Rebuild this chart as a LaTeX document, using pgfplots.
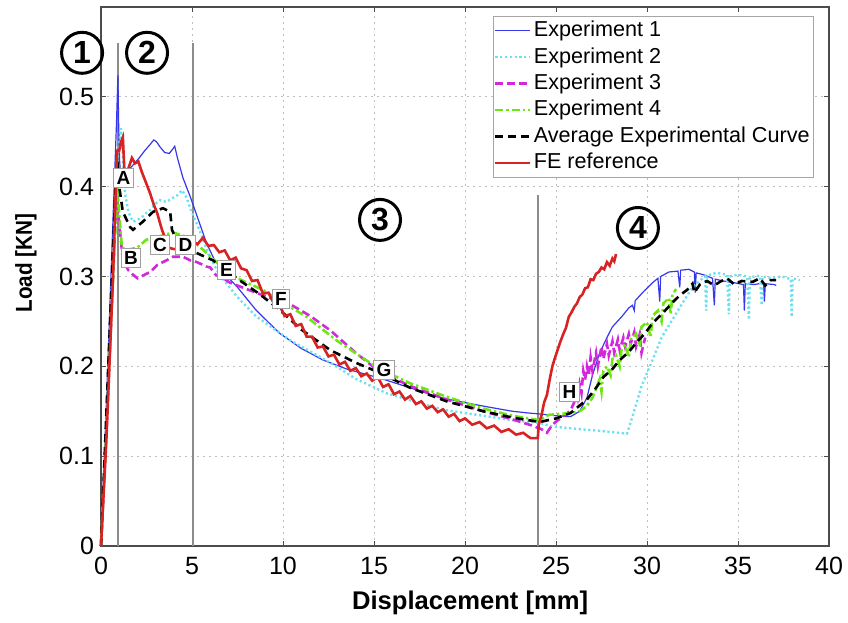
\documentclass[border=0pt]{standalone}
\usepackage{pgfplots}
\pgfplotsset{compat=1.18}
\usepackage{fontspec}
\setmainfont{Liberation Sans}
\newfontfamily\condbold[FakeStretch=0.9]{Liberation Sans}

\definecolor{expA}{RGB}{55,55,235}
\definecolor{expB}{RGB}{110,225,240}
\definecolor{expC}{RGB}{210,40,220}
\definecolor{expD}{RGB}{110,230,20}
\definecolor{feRed}{RGB}{215,35,35}
\definecolor{zoneLine}{RGB}{140,140,140}

\tikzset{
  stage/.style={circle, draw=black, line width=1.5pt, minimum size=20.5pt, inner sep=0pt,
                font=\bfseries\fontsize{16}{16}\selectfont},
  point/.style={draw=gray!75, fill=white, line width=0.5pt, inner sep=1.5pt,
                text height=6.6pt, text depth=0pt, font=\bfseries\fontsize{9.5}{10}\selectfont}
}

\begin{document}
\begin{tikzpicture}
\begin{axis}[
  scale only axis, width=364pt, height=269.5pt,
  xmin=0, xmax=40, ymin=0, ymax=0.6,
  xtick={0,5,10,15,20,25,30,35,40},
  ytick={0,0.1,0.2,0.3,0.4,0.5},
  yticklabels={0,0.1,0.2,0.3,0.4,0.5},
  grid=major,
  major grid style={gray!50, line width=0.4pt, dash pattern=on 1pt off 2pt},
  tick align=inside,
  major tick length=2.5pt,
  tick style={black!70, line width=0.5pt},
  axis line style={black!70, line width=0.7pt},
  /pgf/number format/assume math mode=true,
  every tick label/.append style={font=\fontsize{12.5}{14}\selectfont},
  xticklabel style={anchor=base, yshift=-14.5pt},
  xlabel={Displacement [mm]},
  ylabel={Load [KN]},
  xlabel style={at={(axis description cs:0.507,0)}, anchor=base, yshift=-32pt,
                font=\bfseries\fontsize{12.8}{14}\selectfont},
  ylabel style={at={(axis description cs:-0.0948,0.525)}, anchor=base,
                font=\condbold\bfseries\fontsize{11.5}{13}\selectfont},
  clip=false,
  legend cell align=left,
  legend style={at={(axis description cs:0.538,0.983)}, anchor=north west,
                draw=gray!70, line width=0.5pt, fill=white, inner sep=0.5pt, row sep=0pt,
                font=\fontsize{10.8}{12}\selectfont,
                nodes={inner sep=1.5pt, text height=8pt, text depth=2.2pt}},
]

% zone boundaries
\addplot[forget plot, zoneLine, line width=0.8pt] coordinates {(0.95,0) (0.95,0.56)};
\addplot[forget plot, zoneLine, line width=0.8pt] coordinates {(5.05,0) (5.05,0.56)};
\addplot[forget plot, zoneLine, line width=0.8pt] coordinates {(24.0,0) (24.0,0.391)};

% Experiment 1
\addplot[expA, line width=0.6pt] coordinates {
(0,0) (0.3,0.16) (0.6,0.33) (0.85,0.47) (0.93,0.524) (0.97,0.47) (1.02,0.43) (1.1,0.405)
(1.25,0.41) (1.5,0.418) (1.8,0.425) (2.1,0.432) (2.4,0.44) (2.7,0.447) (2.9,0.452) (3.05,0.45)
(3.25,0.444) (3.5,0.438) (3.75,0.437) (3.95,0.442) (4.05,0.445) (4.2,0.432) (4.5,0.41)
(4.9,0.389) (5.3,0.366) (5.8,0.337) (6.2,0.320) (6.7,0.305) (7.5,0.288) (8.5,0.263)
(9.8,0.237) (11,0.220) (12.2,0.207) (13.5,0.197) (15.3,0.187) (17,0.176) (18.5,0.166)
(19.9,0.160) (21.2,0.155) (22.6,0.150) (23.5,0.148) (24.1,0.147) (25,0.145) (25.8,0.144)
(26.3,0.150) (26.7,0.165) (27.0,0.190) (27.4,0.215) (27.8,0.232) (28.1,0.244) (28.6,0.255)
(29.0,0.265) (29.2,0.268) (29.3,0.262) (29.35,0.273) (29.8,0.283) (30.3,0.293) (30.6,0.298)
(30.7,0.272) (30.75,0.300) (31.2,0.305) (31.7,0.306) (31.8,0.288) (31.85,0.307) (32.3,0.308)
(32.6,0.305) (32.65,0.282) (32.7,0.304) (33.1,0.302) (33.6,0.298) (33.7,0.268) (33.75,0.297)
(34.2,0.295) (34.8,0.293) (35.3,0.291) (35.35,0.262) (35.4,0.292) (35.9,0.291) (36.4,0.293)
(36.45,0.272) (36.5,0.292) (37.0,0.291) (37.1,0.290)
};
\addlegendentry{Experiment 1}

% Experiment 2
\addplot[expB, line width=1.2pt, dash pattern=on 1.1pt off 1.3pt] coordinates {
(0,0) (0.3,0.14) (0.6,0.29) (0.9,0.43) (1.1,0.465) (1.2,0.435) (1.32,0.393) (1.5,0.372)
(1.76,0.361) (2.0,0.363) (2.25,0.366) (2.5,0.371) (2.7,0.374) (3.0,0.381) (3.24,0.385)
(3.6,0.383) (3.9,0.387) (4.17,0.390) (4.45,0.396) (4.7,0.388) (4.9,0.376) (5.2,0.362)
(5.44,0.350) (5.9,0.325) (6.5,0.302) (7.5,0.277) (8.5,0.256) (10.4,0.229) (12.6,0.204)
(14.0,0.186) (15.7,0.170) (17.5,0.159) (19,0.151) (21,0.145) (22.6,0.140) (24.1,0.137)
(24.8,0.133) (25.8,0.131) (27.5,0.128) (28.9,0.125) (29.2,0.144) (29.7,0.178) (30.3,0.207)
(30.8,0.232) (31.4,0.252) (32.0,0.272) (32.5,0.288) (33.0,0.297) (33.2,0.300) (33.25,0.262)
(33.3,0.301) (33.8,0.304) (34.4,0.302) (34.5,0.258) (34.55,0.300) (35.0,0.302) (35.5,0.300)
(35.6,0.252) (35.65,0.299) (36.2,0.301) (36.3,0.268) (36.35,0.300) (36.9,0.298) (37.4,0.300)
(37.9,0.297) (37.95,0.255) (38.0,0.298) (38.4,0.296)
};
\addlegendentry{Experiment 2}

% Experiment 3
\addplot[expC, line width=1.3pt, dash pattern=on 4pt off 2pt] coordinates {
(0,0) (0.3,0.13) (0.6,0.27) (0.85,0.39) (1.0,0.36) (1.2,0.318) (1.5,0.307) (1.76,0.302)
(2.0,0.298) (2.2,0.300) (2.7,0.305) (3.1,0.313) (3.6,0.318) (3.96,0.322) (4.5,0.322)
(4.9,0.318) (5.27,0.316) (5.8,0.311) (6.0,0.310) (6.3,0.302) (6.7,0.298) (7.1,0.293)
(8.0,0.286) (9.3,0.276) (10.0,0.272) (10.4,0.269) (11.0,0.262) (11.5,0.256) (12.6,0.240)
(14.0,0.215) (15.3,0.194) (17.0,0.178) (19.0,0.163) (21.0,0.150) (22.6,0.141) (23.7,0.134)
(24.2,0.130) (24.5,0.126) (24.8,0.135) (25.1,0.140) (25.5,0.146) (25.8,0.151) (26.0,0.160)
(26.1,0.175) (26.2,0.165) (26.3,0.180) (26.4,0.170) (26.5,0.195) (26.6,0.185) (26.7,0.200)
(26.8,0.190) (26.9,0.210) (27.0,0.195) (27.2,0.215) (27.3,0.200) (27.5,0.222) (27.6,0.208)
(27.8,0.225) (27.9,0.212) (28.1,0.228) (28.2,0.215) (28.4,0.230) (28.5,0.218) (28.7,0.232)
(28.8,0.222) (29.0,0.236) (29.1,0.225) (29.3,0.238) (29.4,0.222) (29.6,0.236) (29.7,0.215)
(29.9,0.232)
};
\addlegendentry{Experiment 3}

% Experiment 4
\addplot[expD, line width=1.3pt, dash pattern=on 4pt off 1.5pt on 1.2pt off 1.5pt] coordinates {
(0,0) (0.3,0.13) (0.6,0.27) (0.9,0.40) (1.0,0.37) (1.15,0.332) (1.5,0.330) (1.98,0.332)
(2.5,0.341) (3.1,0.344) (3.96,0.349) (4.7,0.344) (5.44,0.333) (6.5,0.313) (7.5,0.298)
(8.9,0.285) (10.0,0.271) (11.3,0.255) (13.0,0.228) (15.3,0.197) (17.0,0.181) (19.0,0.166)
(21.0,0.153) (22.6,0.145) (24.1,0.140) (24.6,0.146) (25.2,0.147) (25.8,0.148) (26.3,0.150)
(26.7,0.156) (27.0,0.165) (27.2,0.175) (27.4,0.186) (27.5,0.172) (27.6,0.195) (27.8,0.200)
(28.0,0.190) (28.1,0.208) (28.3,0.212) (28.5,0.200) (28.6,0.218) (28.8,0.224) (29.0,0.210)
(29.1,0.230) (29.4,0.236) (29.6,0.222) (29.7,0.244) (30.0,0.249) (30.2,0.232) (30.3,0.256)
(30.6,0.262) (30.8,0.250) (30.9,0.270) (31.2,0.276) (31.3,0.258) (31.4,0.280) (31.6,0.286)
};
\addlegendentry{Experiment 4}

% Average of the four tests
\addplot[black, line width=1.3pt, dash pattern=on 4pt off 2.5pt] coordinates {
(0,0) (0.3,0.15) (0.6,0.30) (0.8,0.40) (0.9,0.43) (1.0,0.40) (1.2,0.372) (1.6,0.355)
(1.76,0.352) (2.3,0.361) (2.86,0.372) (3.4,0.376) (3.8,0.372) (3.9,0.352) (4.07,0.344)
(4.5,0.333) (5.27,0.326) (6.15,0.318) (7.1,0.303) (8.6,0.282) (9.7,0.265) (11.0,0.241)
(12.6,0.218) (14.0,0.204) (15.3,0.193) (17.0,0.176) (19.0,0.161) (21.0,0.150) (22.6,0.143)
(24.1,0.138) (25.0,0.142) (25.8,0.148) (26.7,0.163) (27.2,0.176) (27.6,0.188) (28.1,0.197)
(28.5,0.207) (29.0,0.216) (29.4,0.226) (29.9,0.237) (30.3,0.248) (30.9,0.260) (31.4,0.271)
(31.8,0.279) (32.2,0.285) (32.5,0.292) (32.6,0.282) (32.9,0.291) (33.3,0.295) (33.7,0.290)
(34.0,0.294) (34.4,0.298) (34.8,0.291) (35.2,0.295) (35.8,0.294) (36.2,0.298) (36.5,0.290)
(36.8,0.296) (37.1,0.296)
};
\addlegendentry{Average Experimental Curve}

% Finite element prediction
\addplot[feRed, line width=1.3pt] coordinates {
(0,0) (0.3,0.12) (0.66,0.30) (0.88,0.44) (1.0,0.44) (1.1,0.45) (1.2,0.455) (1.28,0.42)
(1.35,0.41) (1.5,0.42) (1.7,0.432) (1.87,0.426) (2.05,0.428) (2.25,0.416) (2.5,0.403)
(2.69,0.393) (2.9,0.380) (3.08,0.371) (3.35,0.352) (3.52,0.343) (3.6,0.333) (3.9,0.331)
(4.17,0.330) (4.4,0.334) (4.7,0.336) (5.05,0.339) (5.3,0.336) (5.6,0.343) (5.9,0.334)
(6.2,0.335) (6.5,0.327) (6.8,0.329) (7.1,0.318) (7.4,0.321) (7.7,0.309) (8.0,0.307)
(8.3,0.295) (8.6,0.296) (8.9,0.281) (9.2,0.282) (9.5,0.270) (9.8,0.268) (10.1,0.256)
(10.4,0.258) (10.7,0.245) (11.0,0.247) (11.3,0.233) (11.6,0.233) (11.9,0.221) (12.2,0.222)
(12.5,0.211) (12.8,0.213) (13.1,0.202) (13.4,0.205) (13.7,0.195) (14.0,0.198) (14.3,0.189)
(14.6,0.192) (14.9,0.184) (15.2,0.188) (15.5,0.177) (15.8,0.180) (16.1,0.169) (16.4,0.172)
(16.7,0.163) (17.0,0.167) (17.3,0.158) (17.6,0.161) (17.9,0.153) (18.2,0.156) (18.5,0.149)
(18.8,0.152) (19.1,0.144) (19.4,0.147) (19.7,0.139) (20.0,0.142) (20.4,0.135) (20.8,0.138)
(21.2,0.131) (21.6,0.134) (22.0,0.127) (22.4,0.130) (22.8,0.124) (23.2,0.126) (23.6,0.120)
(24.0,0.120) (24.05,0.135) (24.2,0.145) (24.35,0.160) (24.5,0.168) (24.65,0.185) (24.8,0.200)
(24.95,0.210) (25.1,0.219) (25.25,0.228) (25.4,0.236) (25.55,0.243) (25.7,0.255) (25.85,0.260)
(26.0,0.266) (26.15,0.270) (26.3,0.277) (26.45,0.280) (26.6,0.287) (26.75,0.288) (26.9,0.297)
(27.05,0.296) (27.2,0.303) (27.35,0.305) (27.5,0.310) (27.65,0.308) (27.8,0.316) (27.95,0.312)
(28.1,0.320) (28.2,0.317) (28.3,0.325)
};
\addlegendentry{FE reference}

% stage numbers
\node[stage] at (axis cs:-1.04,0.549) {1};
\node[stage] at (axis cs:2.53,0.549) {2};
\node[stage] at (axis cs:15.33,0.363) {3};
\node[stage] at (axis cs:29.5,0.354) {4};

% characteristic points
\node[point] at (axis cs:1.24,0.410) {A};
\node[point] at (axis cs:1.65,0.321) {B};
\node[point] at (axis cs:3.24,0.335) {C};
\node[point] at (axis cs:4.64,0.335) {D};
\node[point] at (axis cs:6.90,0.307) {E};
\node[point] at (axis cs:9.89,0.275) {F};
\node[point] at (axis cs:15.55,0.196) {G};
\node[point] at (axis cs:25.74,0.171) {H};
\end{axis}
\pgfresetboundingbox
\path ([shift={(-50.5pt,-38.5pt)}]current axis.south west)
  rectangle ([shift={(9.5pt,3.5pt)}]current axis.north east);
\end{tikzpicture}
\end{document}
